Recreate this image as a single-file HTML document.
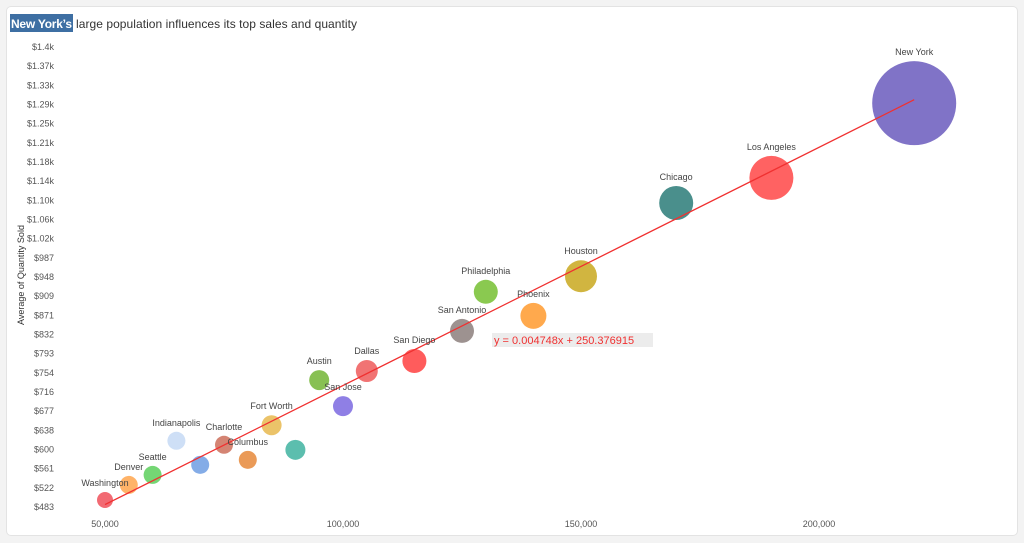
<!DOCTYPE html>
<html><head><meta charset="utf-8"><style>
body{margin:0;background:#f3f3f3;width:1024px;height:543px;overflow:hidden;font-family:"Liberation Sans",sans-serif}
.card{position:absolute;left:6px;top:6px;width:1010px;height:528px;background:#fff;border:1px solid #e3e3e3;border-radius:5px}
</style></head><body>
<div class="card"></div>
<svg id="chart" width="1024" height="543" style="position:absolute;left:0;top:0">
<rect x="10" y="14" width="63" height="18" fill="#3e6fa3"/>
<text x="11" y="28" font-size="12" fill="#fff" font-weight="bold" textLength="61">New York’s</text>
<text x="76" y="28" font-size="12" fill="#333" textLength="281">large population influences its top sales and quantity</text>
<text transform="translate(24,275) rotate(-90)" text-anchor="middle" font-size="9" fill="#333">Average of Quantity Sold</text>
<g id="yticks"></g><g id="xticks"></g><g id="points"></g><g id="labels"></g>
</svg>
<script>
const cities=["Washington","Denver","Seattle","Indianapolis","","Charlotte","Columbus","Fort Worth","","Austin","San Jose","Dallas","San Diego","San Antonio","Philadelphia","Phoenix","Houston","Chicago","Los Angeles","New York"];
const population=[50000,55000,60000,65000,70000,75000,80000,85000,90000,95000,100000,105000,115000,125000,130000,140000,150000,170000,190000,220000];
const quantity=[497,527,547,615,567,607,577,646,597,736,684,754,774,834,912,864,943,1089,1139,1288];
const bubbleSize=[8,9,9,9,9,9,9,10,10,10,10,11,12,12,12,13,16,17,22,42];
const colors=["#f0505a","#ffa64d","#5ccf5c","#c6d9f5","#6f9de3","#cc6e5a","#e6883a","#e8b94f","#3fb3a0","#73b535","#7b68e0","#ee5a5a","#ff4040","#8c7f7c","#76c031","#ff9a2e","#c9a81e","#2a7b78","#ff4747","#6a5bbd"];
const yTicks=["$1.4k","$1.37k","$1.33k","$1.29k","$1.25k","$1.21k","$1.18k","$1.14k","$1.10k","$1.06k","$1.02k","$987","$948","$909","$871","$832","$793","$754","$716","$677","$638","$600","$561","$522","$483"];
const xTicks=[50000,100000,150000,200000];
const slope=0.004748, intercept=250.376915;
const ns="http://www.w3.org/2000/svg";
const X=v=>105+(v-50000)*238/50000;
const Y=v=>507-(v-483)/(1400-483)*460;
function mk(tag,attrs,parent,txt){const e=document.createElementNS(ns,tag);for(const k in attrs)e.setAttribute(k,attrs[k]);if(txt!==undefined)e.textContent=txt;parent.appendChild(e);return e;}
const yt=document.getElementById('yticks');
yTicks.forEach((t,i)=>{const e=mk('text',{x:54,y:47+i*460/(yTicks.length-1)+3,'text-anchor':'end','font-size':9,fill:'#555'},yt,t);

});
const xt=document.getElementById('xticks');
xTicks.forEach(v=>{const e=mk('text',{x:X(v),y:527,'text-anchor':'middle','font-size':9,fill:'#555'},xt,v.toLocaleString('en-US'));

});
const pg=document.getElementById('points'),lg=document.getElementById('labels');
const order=population.map((_,i)=>i).sort((a,b)=>bubbleSize[b]-bubbleSize[a]);
order.forEach(i=>{const c=mk('circle',{cx:X(population[i]),cy:Y(quantity[i]),r:bubbleSize[i],fill:colors[i],'fill-opacity':0.85},pg);


if(cities[i]){const t=mk('text',{x:X(population[i]),y:Y(quantity[i])-bubbleSize[i]-6,'text-anchor':'middle','font-size':9,fill:'#444'},lg,cities[i]);

}});
const x0=population[0],x1=population[population.length-1];
const tl=mk('line',{x1:X(x0),y1:Y(slope*x0+intercept),x2:X(x1),y2:Y(slope*x1+intercept),stroke:'#f03030','stroke-width':1.3},pg);


const bg=mk('rect',{x:492,y:333,width:161,height:14,fill:'#ececec'},lg);


const eq=mk('text',{x:494,y:344,'font-size':11,fill:'#f03030'},lg,'y = 0.004748x + 250.376915');


</script>
</body></html>
